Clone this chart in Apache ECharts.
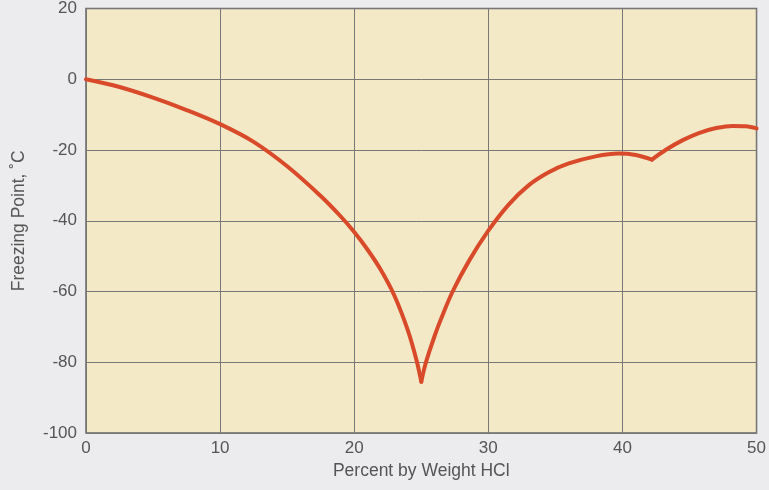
<!DOCTYPE html>
<html>
<head>
<meta charset="utf-8">
<script src="https://cdn.jsdelivr.net/npm/echarts@6/dist/echarts.min.js"></script>
<style>
  html, body { margin: 0; padding: 0; background: #ececee; }
  #chart { width: 769px; height: 490px; }
</style>
</head>
<body>
<div id="chart"></div>
<script>
// percent by weight HCl
const percentHCl = [0, 2.5, 5, 7.5, 10, 12.5, 15, 17.5, 19, 20, 21, 22, 23, 24, 24.65, 25,
  25.35, 26, 26.5, 27.34, 28.58, 30, 31.5, 33, 34.5, 36, 38, 39.7, 41, 42.2,
  43.3, 44.5, 45.7, 47, 48.2, 49.2, 50];
// freezing point, deg C
const freezingPoint = [0, -2.2, -5.2, -8.7, -12.7, -17.7, -24.6, -33, -38.8, -43.2, -48.2, -54, -61.2, -71, -79.5, -85.5,
  -80, -72.5, -67.5, -60, -51.2, -42.8, -35.5, -30, -26.3, -23.8, -21.8, -21, -21.4, -22.7,
  -19.8, -17.2, -15.2, -13.8, -13.2, -13.3, -13.9];
// eutectic points where the curve breaks
const cusps = [25, 42.2];
const xTicks = [0, 10, 20, 30, 40, 50];
const yTicks = [-100, -80, -60, -40, -20, 0, 20];

const chart = echarts.init(document.getElementById("chart"));
const font = "Liberation Sans, Arial, sans-serif";

// split into branches so the cusps stay sharp
const points = percentHCl.map((x, i) => [x, freezingPoint[i]]);
const breaks = [0].concat(cusps.map(c => percentHCl.indexOf(c)), [points.length - 1]);
const series = [];
for (let k = 0; k < breaks.length - 1; k++) {
  series.push({
    type: "line",
    data: points.slice(breaks[k], breaks[k + 1] + 1),
    showSymbol: false,
    smooth: 0.35,
    lineStyle: { color: "#d84a2a", width: 4, cap: "round", join: "round" }
  });
}

chart.setOption({
  backgroundColor: "#ececee",
  animation: false,
  grid: {
    left: 86,
    right: 12,
    top: 8,
    bottom: 57,
    show: true,
    backgroundColor: "#f3e9c6",
    borderColor: "#666",
    borderWidth: 1.5
  },
  xAxis: {
    type: "value",
    min: xTicks[0],
    max: xTicks[xTicks.length - 1],
    interval: 10,
    name: "Percent by Weight HCl",
    nameLocation: "middle",
    nameGap: 25,
    nameTextStyle: { fontFamily: font, fontSize: 17.5, color: "#555" },
    axisLine: { show: false },
    axisTick: { show: false },
    axisLabel: { fontFamily: font, fontSize: 17, color: "#555", margin: 7 },
    splitLine: { lineStyle: { color: "#777", width: 1 } }
  },
  yAxis: {
    type: "value",
    min: yTicks[0],
    max: yTicks[yTicks.length - 1],
    interval: 20,
    name: "Freezing Point, ˚C",
    nameLocation: "middle",
    nameGap: 58,
    nameTextStyle: { fontFamily: font, fontSize: 17.5, color: "#555" },
    axisLine: { show: false },
    axisTick: { show: false },
    axisLabel: { fontFamily: font, fontSize: 17, color: "#555", margin: 9 },
    splitLine: { lineStyle: { color: "#777", width: 1 } }
  },
  series: series
});
</script>
</body>
</html>
